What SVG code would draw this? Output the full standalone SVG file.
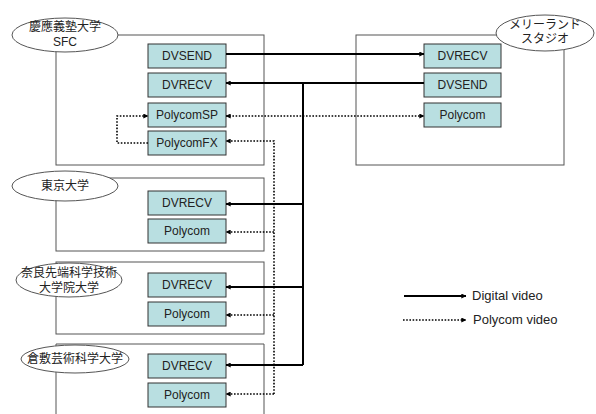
<svg xmlns="http://www.w3.org/2000/svg" width="596" height="414" viewBox="0 0 596 414">
<defs>
<marker id="ah" viewBox="0 0 8 8" refX="7.5" refY="4" markerWidth="5" markerHeight="5" markerUnits="userSpaceOnUse" orient="auto-start-reverse">
<path d="M0,0 L8,4 L0,8 z" fill="#000"/>
</marker>
<style>
.site{fill:none;stroke:#555;stroke-width:1}
.oval{fill:#fff;stroke:#555;stroke-width:1}
.box{fill:#b9dfe1;stroke:#333;stroke-width:1}
.bt{font-family:"Liberation Sans",Arial,sans-serif;font-size:12px;fill:#222;text-anchor:middle}
.jt{font-family:"Liberation Sans","Noto Sans CJK JP",sans-serif;font-size:12px;fill:#222;text-anchor:middle}
.lt{font-family:"Liberation Sans",Arial,sans-serif;font-size:13px;fill:#222}
.dv{fill:none;stroke:#000;stroke-width:2}
.pv{fill:none;stroke:#000;stroke-width:1.6;stroke-dasharray:1.6,1.6}
</style>
</defs>
<rect width="596" height="414" fill="#fff"/>

<g id="sfc">
<rect class="site" x="56" y="35" width="208" height="130"/>
<ellipse class="oval" cx="65" cy="35" rx="53" ry="17"/>
<text class="jt" x="65" y="31">慶應義塾大学</text>
<text class="jt" x="65" y="46">SFC</text>
<g id="sfc-dvsend"><rect class="box" x="148" y="44" width="78" height="24"/><text class="bt" x="187" y="60">DVSEND</text></g>
<g id="sfc-dvrecv"><rect class="box" x="148" y="73" width="78" height="24"/><text class="bt" x="187" y="89">DVRECV</text></g>
<g id="sfc-polycomsp"><rect class="box" x="148" y="103" width="78" height="24"/><text class="bt" x="187" y="119">PolycomSP</text></g>
<g id="sfc-polycomfx"><rect class="box" x="148" y="131" width="78" height="24"/><text class="bt" x="187" y="147">PolycomFX</text></g>
</g>

<g id="maryland">
<rect class="site" x="356" y="35" width="208" height="130"/>
<ellipse class="oval" cx="545" cy="33" rx="49" ry="18"/>
<text class="jt" x="545" y="29">メリーランド</text>
<text class="jt" x="545" y="43">スタジオ</text>
<g id="md-dvrecv"><rect class="box" x="424" y="44" width="77" height="24"/><text class="bt" x="462.5" y="60">DVRECV</text></g>
<g id="md-dvsend"><rect class="box" x="424" y="73" width="77" height="24"/><text class="bt" x="462.5" y="89">DVSEND</text></g>
<g id="md-polycom"><rect class="box" x="424" y="103" width="77" height="24"/><text class="bt" x="462.5" y="119">Polycom</text></g>
</g>

<g id="tokyo">
<rect class="site" x="56" y="178" width="208" height="73"/>
<ellipse class="oval" cx="65" cy="186" rx="53" ry="15"/>
<text class="jt" x="65" y="190">東京大学</text>
<g id="tk-dvrecv"><rect class="box" x="148" y="191" width="78" height="24"/><text class="bt" x="187" y="207">DVRECV</text></g>
<g id="tk-polycom"><rect class="box" x="148" y="219" width="78" height="24"/><text class="bt" x="187" y="235">Polycom</text></g>
</g>

<g id="nara">
<rect class="site" x="56" y="262" width="208" height="72"/>
<ellipse class="oval" cx="69" cy="280" rx="53" ry="17"/>
<text class="jt" x="69" y="277">奈良先端科学技術</text>
<text class="jt" x="69" y="292">大学院大学</text>
<g id="nr-dvrecv"><rect class="box" x="148" y="273" width="78" height="24"/><text class="bt" x="187" y="289">DVRECV</text></g>
<g id="nr-polycom"><rect class="box" x="148" y="302" width="78" height="24"/><text class="bt" x="187" y="318">Polycom</text></g>
</g>

<g id="kurashiki">
<path class="site" d="M56,420 V344 H264 V420"/>
<ellipse class="oval" cx="75" cy="359" rx="54" ry="14"/>
<text class="jt" x="75" y="363">倉敷芸術科学大学</text>
<g id="ks-dvrecv"><rect class="box" x="148" y="354" width="78" height="24"/><text class="bt" x="187" y="370">DVRECV</text></g>
<g id="ks-polycom"><rect class="box" x="148" y="383" width="78" height="24"/><text class="bt" x="187" y="399">Polycom</text></g>
</g>

<g id="connectors">
<path class="dv" d="M226,54 H424" marker-end="url(#ah)"/>
<path class="dv" d="M424,83 H226" marker-end="url(#ah)"/>
<path class="dv" d="M303,83 V365"/>
<path class="dv" d="M303,204 H226" marker-end="url(#ah)"/>
<path class="dv" d="M303,287 H226" marker-end="url(#ah)"/>
<path class="dv" d="M303,365 H226" marker-end="url(#ah)"/>
<path class="pv" d="M226,116 H424" marker-start="url(#ah)" marker-end="url(#ah)"/>
<path class="pv" d="M274,394 V141 H226" marker-end="url(#ah)"/>
<path class="pv" d="M274,232 H226" marker-end="url(#ah)"/>
<path class="pv" d="M274,315 H226" marker-end="url(#ah)"/>
<path class="pv" d="M274,394 H226" marker-end="url(#ah)"/>
<path class="pv" d="M148,143 H117 V116 H148" marker-end="url(#ah)"/>
</g>

<g id="legend">
<path class="dv" d="M404,296 H466" stroke-width="1.6" marker-end="url(#ah)"/>
<text class="lt" x="472" y="300">Digital video</text>
<path class="pv" d="M403,320 H466" stroke-width="1.2" marker-end="url(#ah)"/>
<text class="lt" x="473" y="324">Polycom video</text>
</g>
</svg>
